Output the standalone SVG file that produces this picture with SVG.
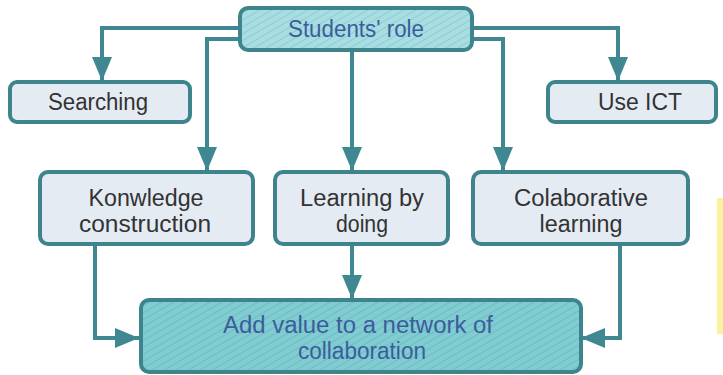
<svg xmlns="http://www.w3.org/2000/svg" width="723" height="375" viewBox="0 0 723 375">
<style>
.box{stroke:#3d848d;stroke-width:4;}
.light{fill:#e5ebf3;}
.t{font-family:"Liberation Sans",Arial,sans-serif;font-size:23.5px;text-anchor:middle;fill:#333;}
.tb{fill:#3b5d9c;}
.conn{fill:none;stroke:#3f8891;stroke-width:4;}
</style>
<defs>
<pattern id="hatch1" width="6" height="6" patternUnits="userSpaceOnUse" patternTransform="rotate(-30)">
<rect width="6" height="6" fill="#a8dde1"/>
<line x1="0" y1="0" x2="6" y2="0" stroke="#8ccdd3" stroke-width="2"/>
</pattern>
<pattern id="hatch2" width="6" height="6" patternUnits="userSpaceOnUse" patternTransform="rotate(-30)">
<rect width="6" height="6" fill="#80ccd1"/>
<line x1="0" y1="0" x2="6" y2="0" stroke="#6dbcc3" stroke-width="2"/>
</pattern>
<marker id="arr" viewBox="0 0 24 20" refX="24" refY="10" markerWidth="24" markerHeight="20" markerUnits="userSpaceOnUse" orient="auto">
<path d="M0,0 L24,10 L0,20 Z" fill="#3f8891"/>
</marker>
</defs>
<rect x="717" y="198" width="6" height="136" fill="#fbf29e"/>
<g id="connectors">
<path class="conn" d="M240,28 H102 V81" marker-end="url(#arr)"/>
<path class="conn" d="M240,39 H207 V171" marker-end="url(#arr)"/>
<path class="conn" d="M352,50 V171" marker-end="url(#arr)"/>
<path class="conn" d="M472,39 H503 V171" marker-end="url(#arr)"/>
<path class="conn" d="M472,28 H618 V81" marker-end="url(#arr)"/>
<path class="conn" d="M95,245 V338 H139" marker-end="url(#arr)"/>
<path class="conn" d="M352,245 V299" marker-end="url(#arr)"/>
<path class="conn" d="M620,245 V338 H581" marker-end="url(#arr)"/>
</g>
<g id="students-role">
<rect class="box" x="240" y="8" width="232" height="42" rx="8" fill="url(#hatch1)"/>
<text class="t tb" x="356" y="37" textLength="136" lengthAdjust="spacingAndGlyphs">Students' role</text>
</g>
<g id="searching">
<rect class="box light" x="10" y="82" width="180" height="40" rx="7"/>
<text class="t" x="98" y="110" textLength="100" lengthAdjust="spacingAndGlyphs">Searching</text>
</g>
<g id="use-ict">
<rect class="box light" x="548" y="82" width="168" height="40" rx="7"/>
<text class="t" x="640" y="110" textLength="84" lengthAdjust="spacingAndGlyphs">Use ICT</text>
</g>
<g id="knowledge">
<rect class="box light" x="40" y="172" width="213" height="72" rx="8"/>
<text class="t" x="146" y="206" textLength="115" lengthAdjust="spacingAndGlyphs">Konwledge</text>
<text class="t" x="145" y="232" textLength="132" lengthAdjust="spacingAndGlyphs">construction</text>
</g>
<g id="learning-by-doing">
<rect class="box light" x="275" y="172" width="173" height="72" rx="8"/>
<text class="t" x="362" y="206" textLength="124" lengthAdjust="spacingAndGlyphs">Learning by</text>
<text class="t" x="362" y="232" textLength="52" lengthAdjust="spacingAndGlyphs">doing</text>
</g>
<g id="collaborative">
<rect class="box light" x="473" y="172" width="215" height="72" rx="8"/>
<text class="t" x="581" y="206" textLength="134" lengthAdjust="spacingAndGlyphs">Colaborative</text>
<text class="t" x="581" y="232" textLength="83" lengthAdjust="spacingAndGlyphs">learning</text>
</g>
<g id="add-value">
<rect class="box" x="141" y="300" width="440" height="72" rx="8" fill="url(#hatch2)"/>
<text class="t tb" x="358" y="333" textLength="270" lengthAdjust="spacingAndGlyphs">Add value to a network of</text>
<text class="t tb" x="362" y="359" textLength="128" lengthAdjust="spacingAndGlyphs">collaboration</text>
</g>
</svg>
